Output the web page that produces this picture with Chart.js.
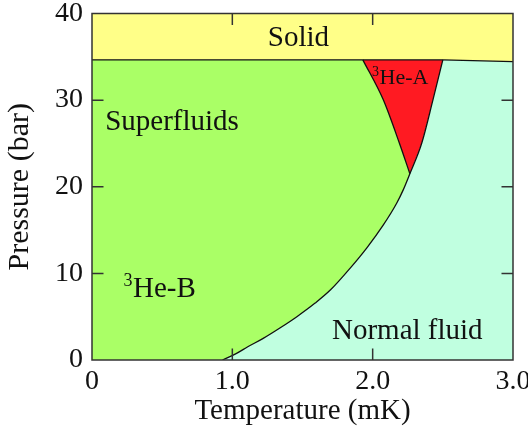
<!DOCTYPE html>
<html>
<head>
<meta charset="utf-8">
<script src="https://cdn.jsdelivr.net/npm/chart.js@4.4.1/dist/chart.umd.min.js"></script>
<style>
  html, body { margin: 0; padding: 0; background: #fff; }
  #wrap { width: 528px; height: 429px; }
</style>
</head>
<body>
<div id="wrap"><canvas id="phaseChart"></canvas></div>
<script>
// 3He phase boundaries: temperature in mK, pressure in bar
const meltT = [0, 1.93, 2.5, 3.0];
const meltP = [34.65, 34.65, 34.65, 34.45];

// superfluid transition (normal -> B, up to the polycritical point)
const tcT = [0.93, 1.03, 1.11, 1.22, 1.35, 1.46, 1.59, 1.70, 1.84, 1.96, 2.075, 2.17, 2.217, 2.265];
const tcP = [0, 0.77, 1.53, 2.5, 3.81, 5.0, 6.57, 8.1, 10.61, 12.98, 15.57, 18.07, 19.61, 21.5];

// A-B line and normal-A line, from the polycritical point up to the melting curve
const abT = [2.265, 2.19, 2.075, 1.93];
const abP = [21.5, 25.05, 30.06, 34.65];
const anT = [2.265, 2.35, 2.43, 2.5];
const anP = [21.5, 25.05, 30.06, 34.65];

const xTickLabels = ['0', '1.0', '2.0', '3.0'];
const yTickLabels = ['0', '10', '20', '30', '40'];

const SERIF = '"Liberation Serif", "Times New Roman", serif';
Chart.defaults.font.family = SERIF;
Chart.defaults.color = '#111';

const pts = (T, P) => T.map((t, i) => ({ x: t, y: P[i] }));
const melt = pts(meltT, meltP);
const tc = pts(tcT, tcP);
const ab = pts(abT, abP);
const an = pts(anT, anP);
const abTop = abT[abT.length - 1];
const anTop = anT[anT.length - 1];

// closed outlines of the four phases
const solidRegion = [...melt, { x: 3, y: 40 }, { x: 0, y: 40 }];
const bRegion = [{ x: 0, y: 0 }, ...tc, ...ab.slice(1),
  ...melt.filter(p => p.x <= abTop).reverse()];
const aRegion = [...ab.slice().reverse(), ...an.slice(1)];
const normalRegion = [{ x: tcT[0], y: 0 }, { x: 3, y: 0 },
  ...melt.filter(p => p.x >= anTop).reverse(),
  ...an.slice().reverse().slice(1), ...tc.slice().reverse().slice(1)];

// boundary curves, ordered by temperature
const tcLine = [...tc, ...an.slice(1)];
const abLine = ab.slice().reverse();

const area = (data, color) => ({
  data,
  showLine: true,
  fill: 'shape',
  backgroundColor: color,
  borderColor: color,
  borderWidth: 0,
  pointRadius: 0,
  pointHitRadius: 0,
  tension: 0
});

const boundary = (data, curved) => ({
  data,
  showLine: true,
  fill: false,
  borderColor: '#111',
  borderWidth: 1.3,
  pointRadius: 0,
  pointHitRadius: 0,
  cubicInterpolationMode: curved ? 'monotone' : 'default',
  tension: 0
});

const TICK = 11.5;

// frame and inward tick marks on all four sides
const framePlugin = {
  id: 'frame',
  afterDatasetsDraw(chart) {
    const { ctx, chartArea: a, scales: { x, y } } = chart;
    ctx.save();
    ctx.strokeStyle = '#333';
    ctx.lineWidth = 1.5;
    ctx.beginPath();
    x.ticks.map(t => t.value).filter(v => v > x.min && v < x.max).forEach(v => {
      const px = x.getPixelForValue(v);
      ctx.moveTo(px, a.bottom); ctx.lineTo(px, a.bottom - TICK);
      ctx.moveTo(px, a.top); ctx.lineTo(px, a.top + TICK);
    });
    y.ticks.map(t => t.value).filter(v => v > y.min && v < y.max).forEach(v => {
      const py = y.getPixelForValue(v);
      ctx.moveTo(a.left, py); ctx.lineTo(a.left + TICK, py);
      ctx.moveTo(a.right, py); ctx.lineTo(a.right - TICK, py);
    });
    ctx.stroke();
    ctx.strokeRect(a.left, a.top, a.width, a.height);
    ctx.restore();
  }
};

// phase names, anchored at (T, P) on their left baseline
const phaseLabels = [
  { sup: '', text: 'Solid', t: 1.253, p: 36.2, size: 29 },
  { sup: '', text: 'Superfluids', t: 0.094, p: 26.5, size: 29 },
  { sup: '3', text: 'He-B', t: 0.224, p: 7.3, size: 29 },
  { sup: '3', text: 'He-A', t: 1.996, p: 31.85, size: 22 },
  { sup: '', text: 'Normal fluid', t: 1.71, p: 2.42, size: 29 }
];

const labelPlugin = {
  id: 'phaseLabels',
  afterDatasetsDraw(chart) {
    const { ctx, scales: { x, y } } = chart;
    ctx.save();
    ctx.fillStyle = '#111';
    ctx.textBaseline = 'alphabetic';
    ctx.textAlign = 'left';
    phaseLabels.forEach(l => {
      let px = x.getPixelForValue(l.t);
      const py = y.getPixelForValue(l.p);
      if (l.sup) {
        const s = Math.round(l.size * 0.62);
        ctx.font = s + 'px ' + SERIF;
        ctx.fillText(l.sup, px, py - l.size * 0.36);
        px += ctx.measureText(l.sup).width + 0.5;
      }
      ctx.font = l.size + 'px ' + SERIF;
      ctx.fillText(l.text, px, py);
    });
    ctx.restore();
  }
};

new Chart(document.getElementById('phaseChart'), {
  type: 'scatter',
  data: {
    datasets: [
      boundary(melt, false),
      boundary(tcLine, true),
      boundary(abLine, true),
      area(solidRegion, '#FFFF88'),
      area(aRegion, '#FF1A22'),
      area(bRegion, '#AAFF66'),
      area(normalRegion, '#C0FFE0')
    ]
  },
  options: {
    responsive: true,
    maintainAspectRatio: false,
    animation: false,
    events: [],
    layout: { padding: { top: 13.5, right: 15, bottom: 0, left: 0 } },
    plugins: {
      legend: { display: false },
      tooltip: { enabled: false },
      filler: { drawTime: 'beforeDatasetsDraw' }
    },
    scales: {
      x: {
        type: 'linear',
        min: 0,
        max: 3,
        grid: { display: false, drawTicks: false },
        border: { display: false },
        ticks: {
          stepSize: 1,
          padding: 5,
          font: { size: 28 },
          color: '#111',
          maxRotation: 0,
          callback: (v, i) => xTickLabels[i]
        },
        title: {
          display: true,
          text: 'Temperature (mK)',
          font: { size: 29 },
          color: '#111',
          padding: { top: 0, bottom: 0 }
        },
        afterFit(scale) {
          scale.height = 69;
          scale.paddingLeft = 0;
          scale.paddingRight = 0;
        }
      },
      y: {
        min: 0,
        max: 40,
        grid: { display: false, drawTicks: false },
        border: { display: false },
        ticks: {
          stepSize: 10,
          padding: 9,
          font: { size: 28 },
          color: '#111',
          callback: (v, i) => yTickLabels[i]
        },
        title: {
          display: true,
          text: 'Pressure (bar)',
          font: { size: 30 },
          color: '#111',
          padding: { top: 2.5, bottom: 0 }
        },
        afterFit(scale) {
          scale.width = 92;
          scale.paddingTop = 0;
          scale.paddingBottom = 0;
        }
      }
    }
  },
  plugins: [framePlugin, labelPlugin]
});
</script>
</body>
</html>
